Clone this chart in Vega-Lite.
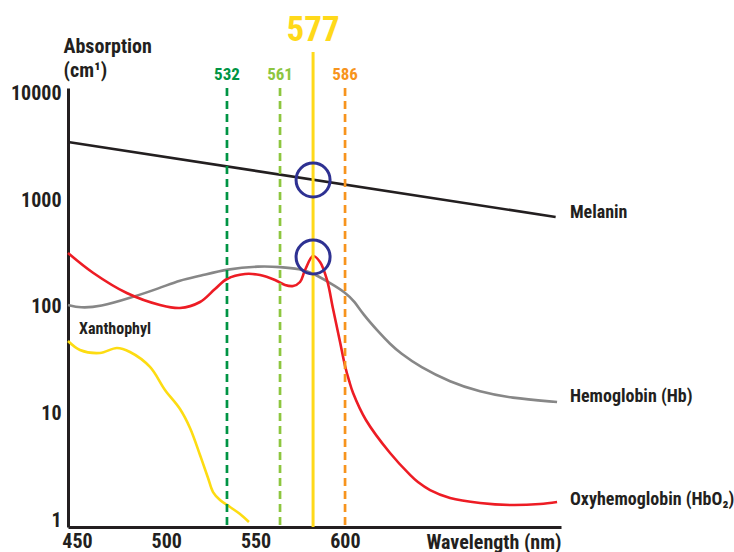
{
  "$schema": "https://vega.github.io/schema/vega-lite/v6.json",
  "width": 493,
  "height": 439,
  "autosize": {"type": "none"},
  "padding": {"left": 68, "top": 88, "right": 173, "bottom": 25},
  "background": "white",
  "config": {
    "view": {"stroke": null},
    "font": "Roboto Condensed, Roboto, sans-serif"
  },
  "datasets": {
    "curves": [
      {"s": "Melanin", "nm": 445, "a": 3520},
      {"s": "Melanin", "nm": 718, "a": 697},
      {"s": "Hb", "nm": 445, "a": 104},
      {"s": "Hb", "nm": 451.7, "a": 97.5},
      {"s": "Hb", "nm": 462.9, "a": 100},
      {"s": "Hb", "nm": 479.7, "a": 121},
      {"s": "Hb", "nm": 496.5, "a": 150},
      {"s": "Hb", "nm": 507.7, "a": 178.6},
      {"s": "Hb", "nm": 518.9, "a": 195},
      {"s": "Hb", "nm": 534, "a": 226.5},
      {"s": "Hb", "nm": 552.5, "a": 241.6},
      {"s": "Hb", "nm": 563.7, "a": 236.5},
      {"s": "Hb", "nm": 574.9, "a": 226.5},
      {"s": "Hb", "nm": 582.2, "a": 207.7},
      {"s": "Hb", "nm": 591.7, "a": 167.4},
      {"s": "Hb", "nm": 600.1, "a": 137.8},
      {"s": "Hb", "nm": 605.7, "a": 111},
      {"s": "Hb", "nm": 609.6, "a": 87.5},
      {"s": "Hb", "nm": 619.7, "a": 56},
      {"s": "Hb", "nm": 625.3, "a": 44.8},
      {"s": "Hb", "nm": 630.9, "a": 36.9},
      {"s": "Hb", "nm": 642.1, "a": 27.3},
      {"s": "Hb", "nm": 658.9, "a": 19.7},
      {"s": "Hb", "nm": 675.7, "a": 15.9},
      {"s": "Hb", "nm": 692.5, "a": 13.96},
      {"s": "Hb", "nm": 718.8, "a": 12.8},
      {"s": "HbO2", "nm": 445, "a": 320},
      {"s": "HbO2", "nm": 459.2, "a": 207.7},
      {"s": "HbO2", "nm": 477.9, "a": 134.8},
      {"s": "HbO2", "nm": 496.5, "a": 104.1},
      {"s": "HbO2", "nm": 507.7, "a": 97.5},
      {"s": "HbO2", "nm": 518.9, "a": 111},
      {"s": "HbO2", "nm": 527.3, "a": 147.1},
      {"s": "HbO2", "nm": 534, "a": 182.5},
      {"s": "HbO2", "nm": 544.1, "a": 203.3},
      {"s": "HbO2", "nm": 552.5, "a": 198.9},
      {"s": "HbO2", "nm": 560.9, "a": 178.6},
      {"s": "HbO2", "nm": 566.5, "a": 160.3},
      {"s": "HbO2", "nm": 571, "a": 156.9},
      {"s": "HbO2", "nm": 574.9, "a": 171},
      {"s": "HbO2", "nm": 577.7, "a": 221.6},
      {"s": "HbO2", "nm": 582.2, "a": 299.9},
      {"s": "HbO2", "nm": 586.1, "a": 263.5},
      {"s": "HbO2", "nm": 590, "a": 178.6},
      {"s": "HbO2", "nm": 593.4, "a": 95.4},
      {"s": "HbO2", "nm": 597.3, "a": 46.8},
      {"s": "HbO2", "nm": 600.1, "a": 27.9},
      {"s": "HbO2", "nm": 602.4, "a": 20.2},
      {"s": "HbO2", "nm": 604.6, "a": 15.55},
      {"s": "HbO2", "nm": 611.8, "a": 8.68},
      {"s": "HbO2", "nm": 625.3, "a": 4.25},
      {"s": "HbO2", "nm": 636.5, "a": 2.65},
      {"s": "HbO2", "nm": 640.9, "a": 2.27},
      {"s": "HbO2", "nm": 647.7, "a": 1.91},
      {"s": "HbO2", "nm": 658.9, "a": 1.61},
      {"s": "HbO2", "nm": 675.7, "a": 1.444},
      {"s": "HbO2", "nm": 692.5, "a": 1.383},
      {"s": "HbO2", "nm": 709.2, "a": 1.413},
      {"s": "HbO2", "nm": 718.8, "a": 1.476},
      {"s": "Xanthophyl", "nm": 445, "a": 47.8},
      {"s": "Xanthophyl", "nm": 451.7, "a": 39.4},
      {"s": "Xanthophyl", "nm": 462.9, "a": 36.9},
      {"s": "Xanthophyl", "nm": 472.4, "a": 41.1},
      {"s": "Xanthophyl", "nm": 479.7, "a": 37.7},
      {"s": "Xanthophyl", "nm": 490.9, "a": 27.3},
      {"s": "Xanthophyl", "nm": 499.3, "a": 16.6},
      {"s": "Xanthophyl", "nm": 507.7, "a": 11.0},
      {"s": "Xanthophyl", "nm": 513.3, "a": 7.3},
      {"s": "Xanthophyl", "nm": 518.9, "a": 4.07},
      {"s": "Xanthophyl", "nm": 523.4, "a": 2.48},
      {"s": "Xanthophyl", "nm": 526.2, "a": 1.83},
      {"s": "Xanthophyl", "nm": 530.1, "a": 1.54},
      {"s": "Xanthophyl", "nm": 535.7, "a": 1.325},
      {"s": "Xanthophyl", "nm": 541.3, "a": 1.139},
      {"s": "Xanthophyl", "nm": 546.3, "a": 0.958}
    ],
    "dashed": [
      {"label": "532", "nm": 534.0, "a": 11300, "a2": 0.86},
      {"label": "561", "nm": 563.7, "a": 11300, "a2": 0.86},
      {"label": "586", "nm": 600.1, "a": 11300, "a2": 0.86}
    ],
    "solid": [
      {"label": "577", "nm": 582.2, "a": 24590, "a2": 0.86}
    ],
    "ruleLabels": [
      {"label": "532", "nm": 534.0, "a": 14960},
      {"label": "561", "nm": 563.7, "a": 14960},
      {"label": "586", "nm": 600.1, "a": 14960}
    ],
    "bigLabel": [
      {"label": "577", "nm": 582.2, "a": 39570}
    ],
    "circles": [
      {"nm": 582.2, "a": 1549},
      {"nm": 582.2, "a": 293.6}
    ],
    "seriesLabels": [
      {"label": "Melanin", "nm": 726, "a": 759, "big": true},
      {"label": "Hemoglobin (Hb)", "nm": 726, "a": 14.26, "big": true},
      {"label": "Oxyhemoglobin (HbO₂)", "nm": 726, "a": 1.54, "big": true},
      {"label": "Xanthophyl", "nm": 451.2, "a": 62, "big": false}
    ]
  },
  "encoding": {
    "x": {
      "field": "nm",
      "type": "quantitative",
      "scale": {"domain": [445, 721], "zero": false, "nice": false},
      "axis": {
        "values": [450, 500, 550, 600],
        "ticks": false,
        "grid": false,
        "domainColor": "#231f20",
        "domainWidth": 3,
        "labelFontSize": 20,
        "labelFontWeight": "bold",
        "labelColor": "#231f20",
        "labelPadding": 4,
        "labelFlush": false,
        "title": "Wavelength (nm)",
        "titleFontSize": 20,
        "titleFontWeight": "bold",
        "titleColor": "#231f20",
        "titleAnchor": "end",
        "titleAlign": "right",
        "titleBaseline": "top",
        "titleY": 5
      }
    },
    "y": {
      "field": "a",
      "type": "quantitative",
      "scale": {"type": "log", "domain": [0.86, 11300], "nice": false},
      "axis": {
        "values": [1, 10, 100, 1000, 10000],
        "format": "d",
        "ticks": false,
        "grid": false,
        "domainColor": "#231f20",
        "domainWidth": 3,
        "labelFontSize": 20,
        "labelFontWeight": "bold",
        "labelColor": "#231f20",
        "labelPadding": 7,
        "title": ["Absorption", "(cm¹)"],
        "titleAngle": 0,
        "titleAlign": "left",
        "titleBaseline": "alphabetic",
        "titleX": -5,
        "titleY": -36,
        "titleLineHeight": 24,
        "titleFontSize": 20,
        "titleFontWeight": "bold",
        "titleColor": "#231f20"
      }
    }
  },
  "layer": [
    {
      "data": {"name": "curves"},
      "transform": [{"filter": "datum.s == 'Hb' || datum.s == 'Melanin'"}],
      "mark": {"type": "line", "interpolate": "basis", "strokeWidth": 2.6},
      "encoding": {
        "detail": {"field": "s"},
        "color": {
          "field": "s",
          "type": "nominal",
          "scale": {"domain": ["Melanin", "Hb"], "range": ["#231f20", "#878787"]},
          "legend": null
        }
      }
    },
    {
      "data": {"name": "curves"},
      "transform": [{"filter": "datum.s == 'HbO2' || datum.s == 'Xanthophyl'"}],
      "mark": {"type": "line", "interpolate": "catmull-rom", "strokeWidth": 2.6},
      "encoding": {
        "detail": {"field": "s"},
        "color": {
          "field": "s",
          "type": "nominal",
          "scale": {"domain": ["HbO2", "Xanthophyl"], "range": ["#ed1c24", "#fddc12"]},
          "legend": null
        }
      }
    },
    {
      "data": {"name": "dashed"},
      "mark": {"type": "rule", "strokeWidth": 2.7, "strokeDash": [8, 5]},
      "encoding": {
        "y2": {"field": "a2"},
        "color": {
          "field": "label",
          "type": "nominal",
          "scale": {"domain": ["532", "561", "586"], "range": ["#009444", "#8dc63f", "#f7941d"]},
          "legend": null
        }
      }
    },
    {
      "data": {"name": "solid"},
      "mark": {"type": "rule", "strokeWidth": 3, "color": "#ffd91a"},
      "encoding": {"y2": {"field": "a2"}}
    },
    {
      "data": {"name": "ruleLabels"},
      "mark": {"type": "text", "fontSize": 17, "fontWeight": "bold", "align": "center", "baseline": "middle"},
      "encoding": {
        "text": {"field": "label"},
        "color": {
          "field": "label",
          "type": "nominal",
          "scale": {"domain": ["532", "561", "586"], "range": ["#009444", "#8dc63f", "#f7941d"]},
          "legend": null
        }
      }
    },
    {
      "data": {"name": "bigLabel"},
      "mark": {"type": "text", "fontSize": 35, "fontWeight": "bold", "align": "center", "baseline": "middle", "color": "#ffd91a"},
      "encoding": {"text": {"field": "label"}}
    },
    {
      "data": {"name": "circles"},
      "mark": {"type": "point", "shape": "circle", "size": 1156, "filled": false, "strokeWidth": 3, "color": "#2e3192", "opacity": 1},
      "encoding": {}
    },
    {
      "data": {"name": "seriesLabels"},
      "mark": {"type": "text", "fontWeight": "bold", "align": "left", "baseline": "middle", "color": "#231f20"},
      "encoding": {
        "text": {"field": "label"},
        "size": {
          "field": "big",
          "type": "nominal",
          "scale": {"domain": [true, false], "range": [18, 16]},
          "legend": null
        }
      }
    }
  ],
  "resolve": {"scale": {"color": "independent", "size": "independent"}}
}
